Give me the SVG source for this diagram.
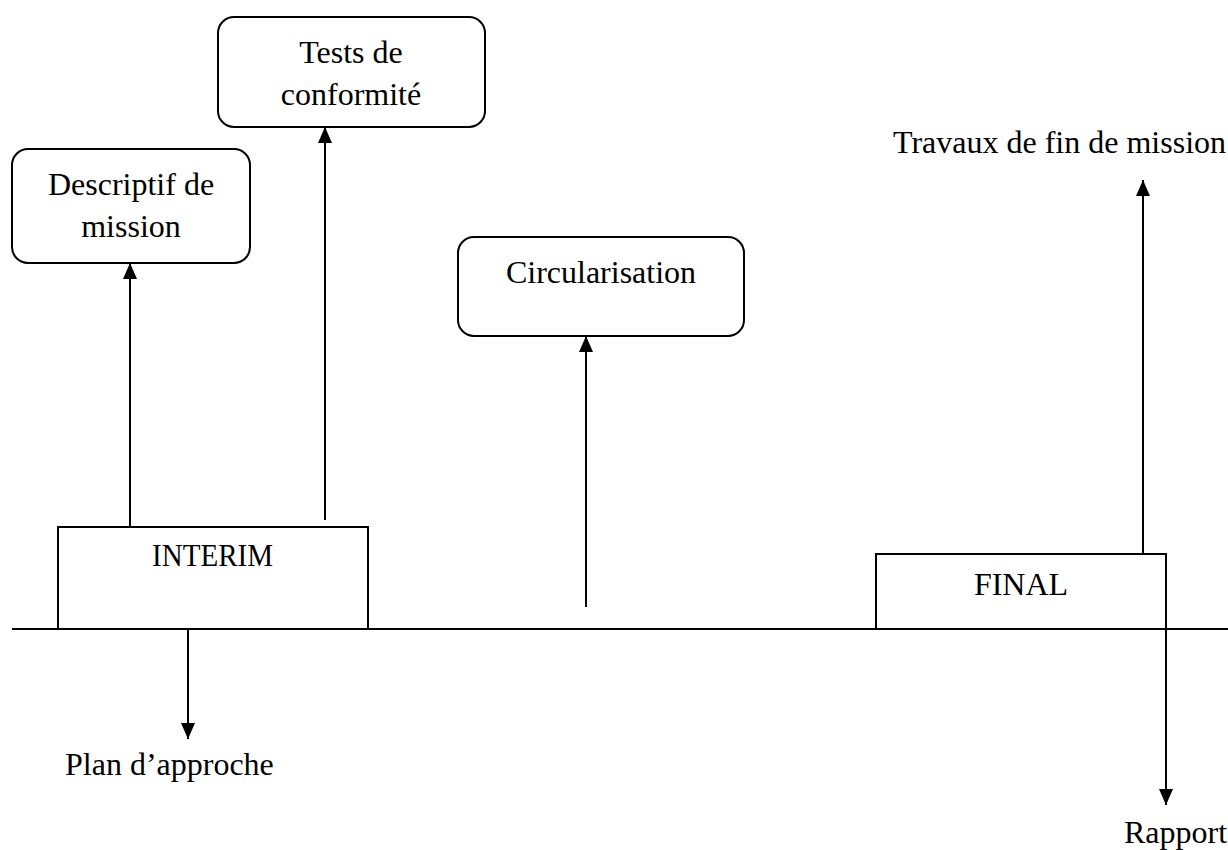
<svg xmlns="http://www.w3.org/2000/svg" width="1228" height="850" viewBox="0 0 1228 850">
<defs>
<marker id="ah" viewBox="0 0 16 14" refX="16" refY="7" markerWidth="16" markerHeight="14" markerUnits="userSpaceOnUse" orient="auto">
<path d="M0,0 L16,7 L0,14 Z" fill="#000"/>
</marker>
</defs>
<style>
text{font-family:"Liberation Serif","Times New Roman",serif;font-size:32px;fill:#000}
.box{fill:#fff;stroke:#000;stroke-width:2}
.ln{stroke:#000;stroke-width:2;fill:none}
.arr{stroke:#000;stroke-width:2;fill:none;marker-end:url(#ah)}
.c{text-anchor:middle}
</style>
<rect width="1228" height="850" fill="#fff"/>
<g id="connectors">
<line class="ln" x1="12" y1="629" x2="1228" y2="629"/>
<line class="arr" x1="130" y1="527" x2="130" y2="263"/>
<line class="arr" x1="325" y1="520" x2="325" y2="127"/>
<line class="arr" x1="586" y1="607" x2="586" y2="336"/>
<line class="arr" x1="188" y1="629" x2="188" y2="739"/>
<line class="arr" x1="1143" y1="554" x2="1143" y2="180"/>
<line class="arr" x1="1166" y1="629" x2="1166" y2="805"/>
</g>
<g id="tests">
<rect class="box" x="218" y="17" width="267" height="110" rx="16"/>
<text class="c" x="351" y="63">Tests de</text>
<text class="c" x="351" y="105">conformité</text>
</g>
<g id="descriptif">
<rect class="box" x="12" y="149" width="238" height="114" rx="16"/>
<text class="c" x="131" y="195">Descriptif de</text>
<text class="c" x="131" y="237">mission</text>
</g>
<g id="circularisation">
<rect class="box" x="458" y="237" width="286" height="99" rx="16"/>
<text class="c" x="601" y="283">Circularisation</text>
</g>
<g id="interim">
<rect class="box" x="58" y="527" width="310" height="102"/>
<text x="152" y="566" textLength="121" lengthAdjust="spacingAndGlyphs">INTERIM</text>
</g>
<g id="final">
<rect class="box" x="876" y="554" width="290" height="75"/>
<text class="c" x="1021" y="595">FINAL</text>
</g>
<g id="plan">
<text x="65" y="775">Plan d’approche</text>
</g>
<g id="travaux">
<text x="893" y="153">Travaux de fin de mission</text>
</g>
<g id="rapport">
<text x="1124" y="843">Rapport</text>
</g>
</svg>
